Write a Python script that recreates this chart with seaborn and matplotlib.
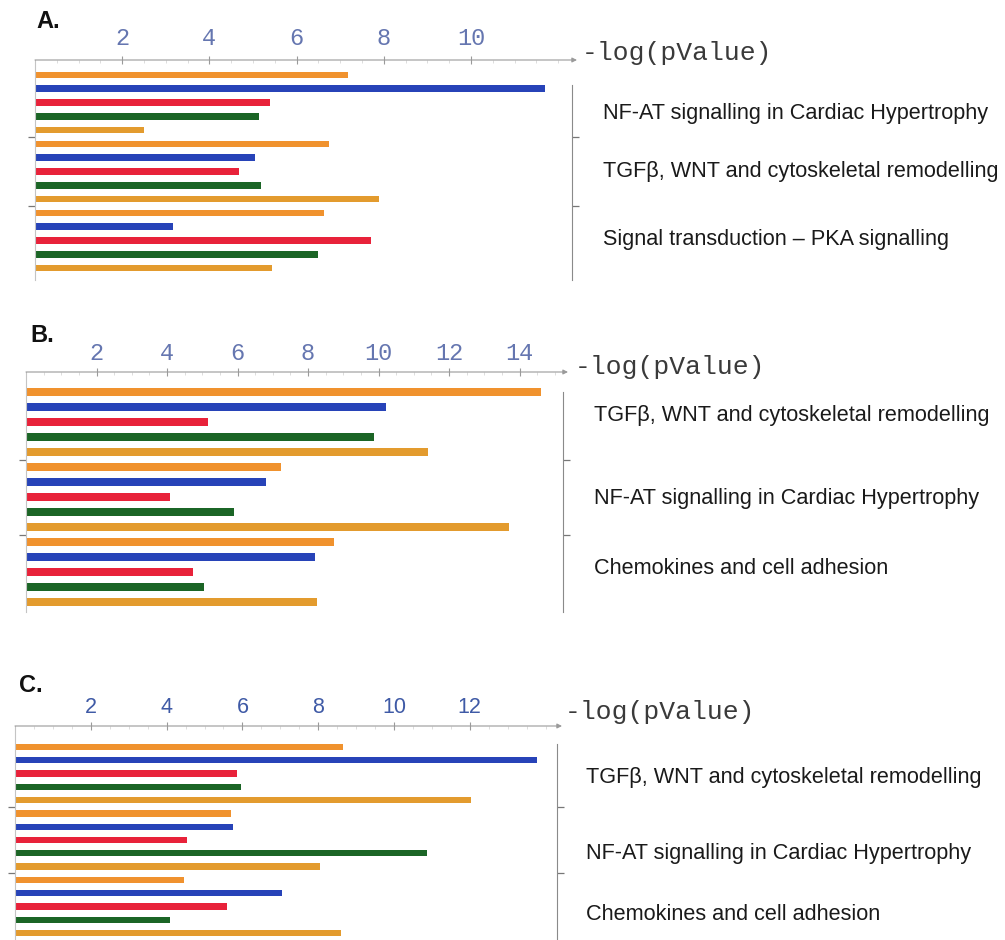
import numpy as np
import pandas as pd
import matplotlib
matplotlib.use("Agg")
import matplotlib.pyplot as plt
import seaborn as sns
from matplotlib.ticker import MultipleLocator

# ---------------- data ----------------
series_names = ["Series 1", "Series 2", "Series 3", "Series 4", "Series 5"]
series_colors = ["#F0922E", "#2743B8", "#E8223A", "#1B6526", "#E39B2E"]

pathways_A = ["NF-AT signalling in Cardiac Hypertrophy",
              "TGFβ, WNT and cytoskeletal remodelling",
              "Signal transduction – PKA signalling"]
A_s1 = [7.17, 6.75, 6.63]
A_s2 = [11.7, 5.04, 3.16]
A_s3 = [5.40, 4.67, 7.71]
A_s4 = [5.13, 5.18, 6.48]
A_s5 = [2.50, 7.88, 5.43]
ticks_A = [2, 4, 6, 8, 10]

pathways_B = ["TGFβ, WNT and cytoskeletal remodelling",
              "NF-AT signalling in Cardiac Hypertrophy",
              "Chemokines and cell adhesion"]
B_s1 = [14.6, 7.23, 8.75]
B_s2 = [10.2, 6.80, 8.20]
B_s3 = [5.15, 4.09, 4.74]
B_s4 = [9.87, 5.90, 5.05]
B_s5 = [11.4, 13.7, 8.26]
ticks_B = [2, 4, 6, 8, 10, 12, 14]

pathways_C = ["TGFβ, WNT and cytoskeletal remodelling",
              "NF-AT signalling in Cardiac Hypertrophy",
              "Chemokines and cell adhesion"]
C_s1 = [8.66, 5.69, 4.45]
C_s2 = [13.76, 5.74, 7.04]
C_s3 = [5.85, 4.53, 5.60]
C_s4 = [5.95, 10.88, 4.09]
C_s5 = [12.04, 8.06, 8.60]
ticks_C = [2, 4, 6, 8, 10, 12]

axis_title = "-log(pValue)"
panel_letters = ["A.", "B.", "C."]

# ---------------- layout (pixels) ----------------
W, H = 1005, 940
layouts = [
    dict(left=35, right=572, arrow=577, top=60, b0=75, b14=268, bottom=280,
         rtop=85, ppu=43.6, letter=(36, 22), log=(582, 53),
         lab_x=603, lab_y=[113, 172, 239], tickfont="Liberation Mono",
         ticksize=17, tickcolor="#6576B0", pad=4.0),
    dict(left=26, right=563, arrow=568, top=372, b0=392, b14=602, bottom=612,
         rtop=392, ppu=35.25, letter=(30, 335), log=(575, 367),
         lab_x=594, lab_y=[416, 498, 569], tickfont="Liberation Mono",
         ticksize=17, tickcolor="#6576B0", pad=2.0),
    dict(left=15, right=557, arrow=562, top=726, b0=747, b14=933, bottom=945,
         rtop=744, ppu=37.9, letter=(19, 685), log=(565, 712),
         lab_x=586, lab_y=[777, 854, 915], tickfont="Liberation Sans",
         ticksize=15.5, tickcolor="#3F5AA6", pad=3.0),
]

panels = [
    (pathways_A, [A_s1, A_s2, A_s3, A_s4, A_s5], ticks_A),
    (pathways_B, [B_s1, B_s2, B_s3, B_s4, B_s5], ticks_B),
    (pathways_C, [C_s1, C_s2, C_s3, C_s4, C_s5], ticks_C),
]


def make_df(pathways, vals):
    rows = []
    for s, v in zip(series_names, vals):
        for p, x in zip(pathways, v):
            rows.append({"pathway": p, "series": s, "value": x})
    return pd.DataFrame(rows)


sns.set_theme(style="white")
plt.rcParams["font.family"] = ["Liberation Sans", "DejaVu Sans"]

fig = plt.figure(figsize=(W / 100, H / 100), dpi=100)
fig.patch.set_facecolor("white")

for (pathways, vals, ticks), L, letter in zip(panels, layouts, panel_letters):
    df = make_df(pathways, vals)
    ax = fig.add_axes([L["left"] / W, 1 - L["bottom"] / H,
                       (L["right"] - L["left"]) / W, (L["bottom"] - L["top"]) / H])
    ax.set_facecolor("none")
    sns.barplot(data=df, x="value", y="pathway", hue="series",
                order=pathways, hue_order=series_names, palette=series_colors,
                orient="h", width=1.0, gap=0.52, errorbar=None, saturation=1,
                linewidth=0, legend=False, ax=ax)

    upp = (L["b14"] - L["b0"]) / 2.8
    y_top = -0.4 - (L["b0"] - L["top"]) / upp
    y_bot = 2.4 + (L["bottom"] - L["b14"]) / upp
    ax.set_ylim(y_bot, y_top)
    ax.set_xlim(0, (L["right"] - L["left"]) / L["ppu"])
    ax.set_xlabel("")
    ax.set_ylabel("")

    # top x axis
    ax.xaxis.set_ticks_position("top")
    ax.set_xticks(ticks)
    ax.set_xticklabels([str(t) for t in ticks], fontfamily=L["tickfont"],
                       fontsize=L["ticksize"], color=L["tickcolor"])
    ax.xaxis.set_minor_locator(MultipleLocator(0.5))
    ax.tick_params(axis="x", which="major", top=True, bottom=False,
                   labeltop=True, labelbottom=False, direction="inout",
                   length=6, width=0.8, color="#9a9a9a", pad=L["pad"])
    ax.tick_params(axis="x", which="minor", top=True, bottom=False,
                   direction="in", length=2.0, width=0.5, color="#cfcfcf")

    # y axis: group separators
    ax.set_yticks([0.5, 1.5])
    ax.set_yticklabels([])
    ax.tick_params(axis="y", left=True, right=True, direction="out",
                   length=5, width=0.9, color="#777777")

    for s in ["top", "bottom"]:
        ax.spines[s].set_visible(False)
    ax.spines["left"].set_color("#c4c4c4")
    ax.spines["left"].set_linewidth(0.8)
    ax.spines["right"].set_color("#8a8a8a")
    ax.spines["right"].set_linewidth(0.8)
    r_top = -0.4 + (L["rtop"] - L["b0"]) / upp
    ax.spines["right"].set_bounds(y_bot, r_top)

    # axis line with arrow
    frac = (L["arrow"] - L["left"]) / (L["right"] - L["left"])
    ax.annotate("", xy=(frac, 1), xytext=(0, 1), xycoords="axes fraction",
                textcoords="axes fraction", annotation_clip=False,
                arrowprops=dict(arrowstyle="-|>", color="#9a9a9a", lw=0.8,
                                mutation_scale=7, shrinkA=0, shrinkB=0))

    fig.text(L["log"][0] / W, 1 - L["log"][1] / H, axis_title,
             fontfamily="Liberation Mono", fontsize=19, color="#3a3a3a",
             ha="left", va="center")
    fig.text(L["letter"][0] / W, 1 - L["letter"][1] / H, letter,
             fontsize=17, fontweight="bold", color="#111111",
             ha="left", va="center")
    for p, yy in zip(pathways, L["lab_y"]):
        fig.text(L["lab_x"] / W, 1 - yy / H, p, fontsize=15.6,
                 color="#1a1a1a", ha="left", va="center")

fig.savefig("out.png", dpi=100, facecolor="white")
